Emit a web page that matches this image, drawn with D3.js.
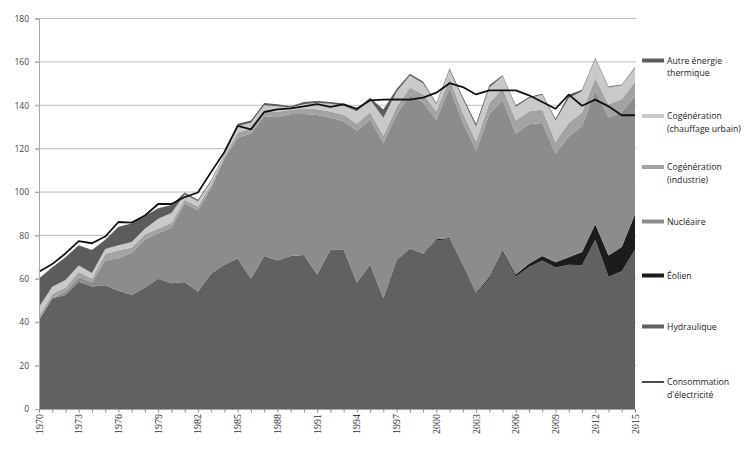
<!DOCTYPE html>
<html><head><meta charset="utf-8">
<script src="https://cdn.jsdelivr.net/npm/d3@7"></script>
<style>body{margin:0;background:#fff}svg{display:block}</style>
</head><body>
<svg id="c" width="754" height="450"></svg>
<script>
const years = d3.range(1970, 2016);
const hydraulique = [41.0,51.0,52.5,58.6,56.5,57.0,54.5,52.5,56.0,60.0,58.0,58.5,54.0,62.5,66.5,69.5,60.0,70.5,68.5,70.5,71.0,62.0,73.2,73.5,58.2,66.5,51.0,68.5,73.7,71.0,77.8,78.3,66.0,53.0,60.0,72.0,61.0,65.5,68.5,65.2,66.5,66.3,78.0,61.0,63.5,73.5];
const eolien = [0,0,0,0,0,0,0,0,0,0,0,0,0,0,0,0,0,0,0,0,0,0,0.1,0.1,0.1,0.1,0.2,0.2,0.3,0.4,0.5,0.5,0.6,0.6,0.9,0.9,1.0,1.4,2.0,2.5,3.5,6.1,7.2,9.8,11.2,16.3];
const nucleaire = [0,0,1.5,2.0,2.0,11.5,15.0,19.5,22.0,21.0,25.5,36.5,37.5,39.5,49.0,55.5,67.0,64.5,66.0,65.5,65.0,73.5,61.0,59.0,70.0,67.0,71.4,67.0,70.5,70.0,55.0,69.2,65.5,65.5,75.0,69.5,65.0,64.3,61.3,50.0,55.6,58.0,61.4,63.6,62.2,54.4];
const cogenIndustrie = [2.0,2.0,2.0,2.5,1.7,3.0,3.7,2.5,2.6,2.2,2.3,1.5,1.8,1.5,1.0,2.5,2.3,2.5,2.5,1.8,2.5,2.7,2.8,3.0,3.2,3.3,3.3,3.5,3.7,3.8,4.0,4.3,4.3,4.3,5.0,5.5,6.0,6.0,6.3,5.5,6.3,6.3,6.0,6.0,6.0,6.5];
const cogenUrbain = [4.0,3.3,3.5,3.0,2.5,2.3,2.3,2.5,2.5,4.5,4.5,2.5,2.5,1.5,0.7,3.0,2.7,2.5,2.5,1.2,2.0,3.0,3.6,4.2,5.8,5.6,8.3,7.0,5.5,5.0,3.2,4.0,6.5,6.8,7.3,5.5,6.3,6.0,6.7,9.8,11.5,9.8,8.8,7.8,6.3,6.5];
const autreThermique = [13.2,9.0,10.5,9.4,10.6,4.2,8.5,8.5,5.9,4.8,3.7,0.8,0.7,0.5,0.3,1.0,1.0,1.0,1.0,0.5,1.0,0.8,0.8,1.0,1.0,1.0,3.8,1.3,0.8,0.8,0.5,0.7,0.9,1.3,1.0,0.4,0.7,0.6,0.5,0.8,1.5,0.7,0.5,0.5,0.4,0.4];
const consommation = [63.3,66.8,71.7,77.4,76.4,79.5,86.2,85.9,89.2,94.5,94.5,97.7,99.8,109.3,118.5,130.5,128.9,136.9,138.1,138.6,139.5,140.5,139.3,140.4,138.4,142.3,142.6,142.7,142.6,143.5,145.8,150.2,148.4,145.0,146.9,146.9,146.9,144.6,141.5,138.4,144.9,139.8,142.6,139.5,135.4,135.4];
const yTicks = [0,20,40,60,80,100,120,140,160,180];
const xLabelYears = d3.range(1970, 2016, 3);

const series = [
  {key:"hydraulique", label:["Hydraulique"], values:hydraulique, color:"#616163"},
  {key:"eolien", label:["Éolien"], values:eolien, color:"#1c1c1e"},
  {key:"nucleaire", label:["Nucléaire"], values:nucleaire, color:"#8b8c8e"},
  {key:"cogenIndustrie", label:["Cogénération","(industrie)"], values:cogenIndustrie, color:"#a2a3a5"},
  {key:"cogenUrbain", label:["Cogénération","(chauffage urbain)"], values:cogenUrbain, color:"#c9c9cb"},
  {key:"autre", label:["Autre énergie","thermique"], values:autreThermique, color:"#5c5c5e"}
];

const table = years.map((yr,i)=>{const o={year:yr}; series.forEach(s=>o[s.key]=s.values[i]); return o;});
const stack = d3.stack().keys(series.map(s=>s.key))(table);

const svg = d3.select("#c");
const x = d3.scaleLinear().domain([1970,2015]).range([39,635]);
const y = d3.scaleLinear().domain([0,180]).range([409,18.5]);

// gridlines
svg.append("g").selectAll("line").data(yTicks.filter(d=>d>0)).join("line")
  .attr("x1",35).attr("x2",636).attr("y1",d=>y(d)).attr("y2",d=>y(d))
  .attr("stroke","#bdbdbd").attr("stroke-width",1);

const area = d3.area().x(d=>x(d.data.year)).y0(d=>y(d[0])).y1(d=>y(d[1]));
svg.append("g").selectAll("path").data(stack).join("path")
  .attr("d",area).attr("fill",(d,i)=>series[i].color);

// consumption line
const line = d3.line().x((d,i)=>x(years[i])).y(d=>y(d));
svg.append("path").datum(consommation).attr("d",line)
  .attr("fill","none").attr("stroke","#111").attr("stroke-width",1.8).attr("stroke-linejoin","round");

// y axis
const yAxis = svg.append("g").attr("transform","translate(39,0)")
  .call(d3.axisLeft(y).tickValues(yTicks).tickSize(4).tickPadding(6));
yAxis.select(".domain").attr("stroke","#a8a8a8");
yAxis.selectAll(".tick line").attr("stroke","#a8a8a8");
yAxis.selectAll("text").attr("fill","#444").style("font","8.5px 'Open Sans', sans-serif");

// x axis
const xAxis = svg.append("g").attr("transform","translate(0,409)")
  .call(d3.axisBottom(x).tickValues(years).tickSize(3.5).tickFormat(""));
xAxis.select(".domain").attr("stroke","#a8a8a8");
xAxis.selectAll(".tick line").attr("stroke","#8a8a8a");
svg.append("g").selectAll("text").data(xLabelYears).join("text")
  .attr("transform",d=>`translate(${x(d)+3.5},414) rotate(-90)`)
  .attr("text-anchor","end").attr("fill","#333")
  .style("font","10px 'Liberation Serif', serif").text(d=>d);

// legend
const legendItems = [
  {s:series[5], y:60.5},
  {s:series[4], y:116},
  {s:series[3], y:167},
  {s:series[2], y:221.5},
  {s:series[1], y:275.5},
  {s:series[0], y:326.5}
];
const lg = svg.append("g");
legendItems.forEach(it=>{
  lg.append("rect").attr("x",642).attr("y",it.y-2).attr("width",22).attr("height",4).attr("fill",it.s.color);
  it.s.label.forEach((t,j)=>{
    lg.append("text").attr("x",667).attr("y",it.y+3+j*12.5).attr("fill","#222")
      .style("font","8.7px 'Open Sans', sans-serif").text(t);
  });
});
lg.append("line").attr("x1",642).attr("x2",664).attr("y1",382).attr("y2",382).attr("stroke","#111").attr("stroke-width",1.5);
["Consommation","d'électricité"].forEach((t,j)=>{
  lg.append("text").attr("x",667).attr("y",385+j*12.5).attr("fill","#222")
    .style("font","8.7px 'Open Sans', sans-serif").text(t);
});
</script>
</body></html>
